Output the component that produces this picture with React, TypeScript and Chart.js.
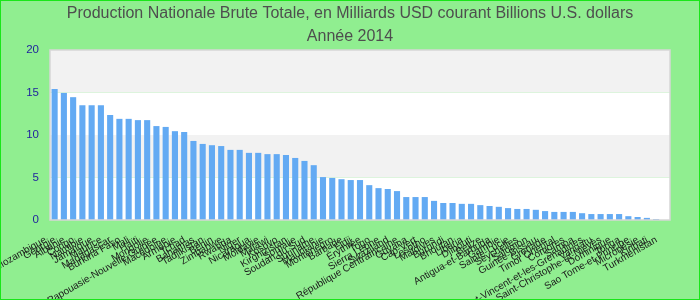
import React, { useEffect, useRef } from "react";
import { Chart, registerables } from "chart.js";

Chart.register(...registerables);

const titleLines = [
  "Production Nationale Brute Totale, en Milliards USD courant Billions U.S. dollars",
  "Année 2014",
];

const countries = [
  "Mozambique", "Géorgie", "Albanie", "Congo", "Namibie", "Jamaïque", "Maurice",
  "Madagascar", "Burkina Faso", "Mali", "Haïti", "Mongolie", "Papouasie-Nouvelle-Guinée",
  "Macédoine", "Arménie", "Tchad", "Bahamas", "Tadjikistan", "Bénin", "Zimbabwe",
  "Rwanda", "Niger", "Nicaragua", "Moldavie", "Malawi", "Kosovo", "Kirghizistan",
  "Somalie", "Soudan du Sud", "Suriname", "Mauritanie", "Monténégro", "Barbade",
  "Fidji", "Érythrée", "Togo", "Sierra Leone", "Swaziland", "République Centrafricaine",
  "Guyana", "Cap-Vert", "Lesotho", "Maldives", "Burundi", "Bhoutan", "Liberia",
  "Djibouti", "Belize", "Antigua-et-Barbuda", "Gambie", "Sainte-Lucie", "Seychelles",
  "Salomon", "Guinée-Bissau", "Grenade", "Timor Oriental", "Comores", "Samoa",
  "Saint-Vincent-et-les-Grenadines", "Vanuatu", "Saint-Christophe-et-Niévès",
  "Dominique", "Tonga", "Sao Tome-et-Principe", "Micronésie", "Kiribati", "Turkmenistan",
];

const gdpValues = [
  15.4, 14.95, 14.45, 13.5, 13.5, 13.5, 12.35,
  11.9, 11.9, 11.75, 11.75, 11.05, 10.95,
  10.45, 10.35, 9.3, 8.95, 8.8, 8.7, 8.25,
  8.25, 7.9, 7.9, 7.75, 7.75, 7.65, 7.3,
  6.95, 6.45, 5.05, 4.95, 4.8, 4.7,
  4.7, 4.1, 3.75, 3.65, 3.4, 2.7,
  2.7, 2.7, 2.25, 2.0, 2.0, 1.9, 1.9,
  1.75, 1.65, 1.55, 1.4, 1.3, 1.3,
  1.2, 1.05, 0.95, 0.95, 0.95, 0.8,
  0.7, 0.7, 0.7,
  0.7, 0.45, 0.35, 0.25, 0.12, 0,
];

const yTicks = [0, 5, 10, 15, 20];
const bandColors = ["#ffffff", "#f2f2f2", "#ffffff", "#f2f2f2"];

const decorPlugin = {
  id: "decor",
  beforeDraw(chart: any) {
    const { ctx, width, height } = chart;
    ctx.save();
    ctx.fillStyle = "#90ee90";
    ctx.fillRect(0, 0, width, height);
    ctx.restore();
  },
  beforeDatasetsDraw(chart: any) {
    const { ctx, chartArea } = chart;
    const y = chart.scales.y;
    ctx.save();
    for (let i = 0; i < yTicks.length - 1; i++) {
      const top = y.getPixelForValue(yTicks[i + 1]);
      const bot = y.getPixelForValue(yTicks[i]);
      ctx.fillStyle = bandColors[i];
      ctx.fillRect(chartArea.left, top, chartArea.right - chartArea.left, bot - top);
    }
    ctx.restore();
  },
  afterDraw(chart: any) {
    const { ctx, chartArea, width, height } = chart;
    ctx.save();
    ctx.strokeStyle = "#d6d6d6";
    ctx.lineWidth = 1.5;
    ctx.strokeRect(chartArea.left, chartArea.top, chartArea.right - chartArea.left, chartArea.bottom - chartArea.top);
    ctx.strokeStyle = "#19e619";
    ctx.lineWidth = 1;
    ctx.strokeRect(0.5, 0.5, width - 1, height - 1);
    ctx.restore();
  },
};

export default function App() {
  const ref = useRef<HTMLCanvasElement>(null);
  useEffect(() => {
    if (!ref.current) return;
    const chart = new Chart(ref.current, {
      type: "bar",
      data: {
        labels: countries,
        datasets: [
          {
            data: gdpValues,
            backgroundColor: "#63aaf3",
            borderWidth: 0,
            barPercentage: 0.66,
            categoryPercentage: 1,
          },
        ],
      },
      options: {
        responsive: false,
        animation: false,
        layout: { padding: 0 },
        plugins: {
          legend: { display: false },
          tooltip: { enabled: false },
          title: {
            display: true,
            text: titleLines,
            color: "#4e4e4e",
            font: { family: "'Liberation Sans', Arial", size: 16, weight: "normal", lineHeight: 1.45 },
            padding: { top: 2, bottom: 1.6 },
          },
        },
        scales: {
          x: {
            grid: { display: false, drawTicks: false },
            border: { display: false },
            ticks: {
              autoSkip: false,
              minRotation: 30,
              maxRotation: 30,
              color: "#1a1a1a",
              font: { family: "'Liberation Sans', Arial", size: 10 },
              padding: 14,
              labelOffset: -9,
            },
            afterFit(scale: any) {
              scale.height = 80;
              scale.paddingLeft = 0;
              scale.paddingRight = 0;
            },
          },
          y: {
            min: 0,
            max: 20,
            grid: { display: false, drawTicks: false },
            border: { display: false },
            ticks: {
              stepSize: 5,
              color: "#1f1f9e",
              font: { family: "'Liberation Sans', Arial", size: 11.5 },
              padding: 11,
            },
            afterFit(scale: any) {
              scale.width = 50;
              scale.paddingTop = 0;
              scale.paddingBottom = 0;
            },
          },
          yRight: {
            position: "right",
            min: 0,
            max: 20,
            grid: { display: false, drawTicks: false },
            border: { display: false },
            ticks: { display: false },
            afterFit(scale: any) {
              scale.width = 30;
              scale.paddingTop = 0;
              scale.paddingBottom = 0;
            },
          },
        },
      },
      plugins: [decorPlugin],
    });
    return () => chart.destroy();
  }, []);
  return (
    <div style={{ position: "absolute", left: 0, top: 0, width: 700, height: 300 }}>
      <canvas ref={ref} width={700} height={300} style={{ display: "block" }} />
    </div>
  );
}
